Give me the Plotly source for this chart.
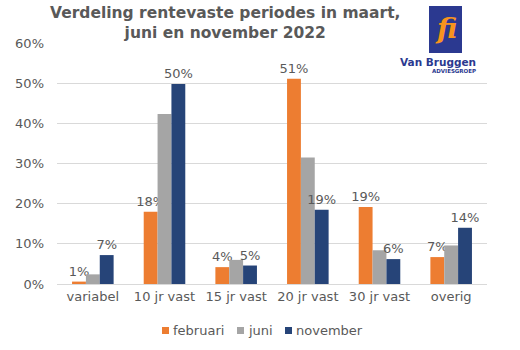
import plotly.graph_objects as go

categories = ["variabel", "10 jr vast", "15 jr vast", "20 jr vast", "30 jr vast", "overig"]
februari = [0.006, 0.18, 0.042, 0.511, 0.192, 0.067]
juni = [0.024, 0.423, 0.060, 0.315, 0.084, 0.096]
november = [0.072, 0.498, 0.046, 0.185, 0.062, 0.140]
series_names = ["februari", "juni", "november"]
colors = ["#ED7D31", "#A5A5A5", "#264478"]
ytick_vals = [0, 0.1, 0.2, 0.3, 0.4, 0.5, 0.6]
ytick_text = ["0%", "10%", "20%", "30%", "40%", "50%", "60%"]

FONT = "DejaVu Sans"
TXT = "#595959"

fig = go.Figure()
for name, vals, col, lab in zip(series_names, [februari, juni, november], colors, [True, False, True]):
    fig.add_trace(go.Bar(
        x=categories, y=vals, name=name, marker_color=col, marker_line_width=0,
        texttemplate="%{y:.0%}" if lab else None,
        textposition="outside" if lab else "none",
        constraintext="none",
        textfont=dict(family=FONT, size=13, color=TXT),
        cliponaxis=False, showlegend=False,
    ))

L, R, T, B = 57, 33, 43, 66
W, H = 520, 350
pw, ph = W - L - R, H - T - B
def px(x):
    return (x - L) / pw
def py(y):
    return (H - B - y) / ph

shapes = [dict(type="rect", xref="paper", yref="paper",
               x0=px(429), x1=px(462), y0=py(53), y1=py(6),
               fillcolor="#2B3990", line_width=0, layer="above")]
annotations = [
    dict(text="<b>Verdeling rentevaste periodes in maart,<br>juni en november 2022</b>",
         xref="paper", yref="paper", x=px(225), y=py(23), xanchor="center", yanchor="middle",
         showarrow=False, font=dict(family=FONT, size=15.5, color=TXT), align="center"),
    dict(text="<b><i>fi</i></b>", xref="paper", yref="paper", x=px(446), y=py(29),
         xanchor="center", yanchor="middle", showarrow=False,
         font=dict(family="DejaVu Serif", size=28, color="#F7941D")),
    dict(text="<b>Van Bruggen</b>", xref="paper", yref="paper", x=px(478), y=py(62),
         xanchor="right", yanchor="middle", showarrow=False,
         font=dict(family=FONT, size=10.5, color="#2B3990")),
    dict(text="<b>ADVIESGROEP</b>", xref="paper", yref="paper", x=px(478), y=py(71),
         xanchor="right", yanchor="middle", showarrow=False,
         font=dict(family=FONT, size=5.5, color="#2B3990")),
]

# legend (compact, built from series names and colours)
legend_x = [162, 237, 285]
for name, col, lx in zip(series_names, colors, legend_x):
    shapes.append(dict(type="rect", xref="paper", yref="paper",
                       x0=px(lx), x1=px(lx + 7), y0=py(334), y1=py(327),
                       fillcolor=col, line_width=0))
    annotations.append(dict(text=name, xref="paper", yref="paper", x=px(lx + 9), y=py(330),
                            xanchor="left", yanchor="middle", showarrow=False,
                            font=dict(family=FONT, size=13, color=TXT)))

fig.update_layout(
    width=W, height=H,
    margin=dict(l=L, r=R, t=T, b=B, pad=0, autoexpand=False),
    paper_bgcolor="white", plot_bgcolor="white",
    barmode="group", bargap=0.42, bargroupgap=0,
    font=dict(family=FONT, size=13, color=TXT),
    showlegend=False,
    shapes=shapes, annotations=annotations,
)
fig.update_xaxes(showgrid=False, showline=True, linecolor="#D9D9D9", linewidth=1,
                 ticks="", tickfont=dict(family=FONT, size=13, color=TXT))
fig.update_yaxes(range=[0, 0.6], tickvals=ytick_vals, ticktext=ytick_text,
                 showgrid=True, gridcolor="#D9D9D9", gridwidth=1, zeroline=False,
                 showline=False, ticks="", ticklabelstandoff=12,
                 tickfont=dict(family=FONT, size=13, color=TXT))

fig.write_html("out.html")
